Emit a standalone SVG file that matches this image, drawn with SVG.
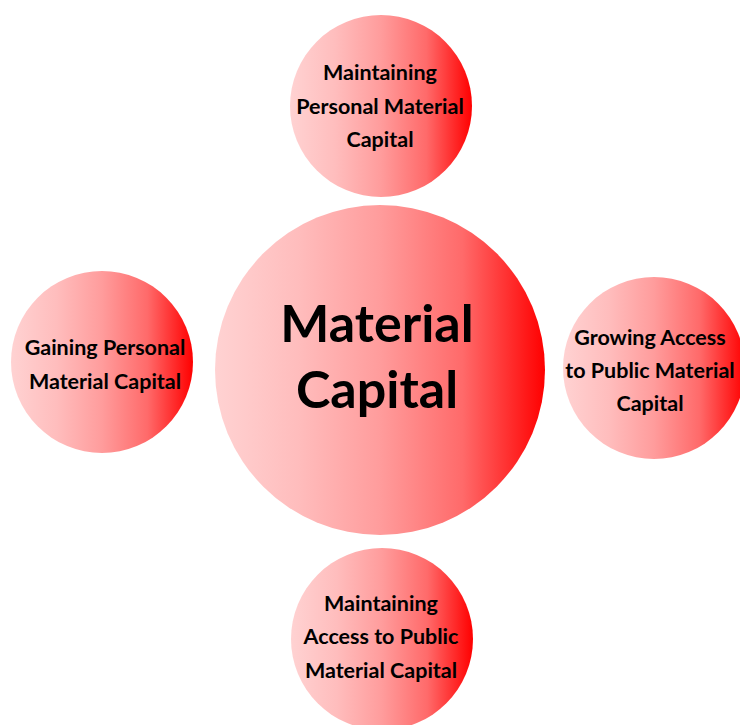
<svg xmlns="http://www.w3.org/2000/svg" width="740" height="725" viewBox="0 0 740 725">
  <defs>
    <!-- soft pink to red, left to right -->
    <linearGradient id="redFill" x1="0" y1="0" x2="1" y2="0">
      <stop offset="0" stop-color="#FFD2D2"/>
      <stop offset="0.25" stop-color="#FFBDBD"/>
      <stop offset="0.5" stop-color="#FF9C9C"/>
      <stop offset="0.75" stop-color="#FF6A6A"/>
      <stop offset="1" stop-color="#FF0000"/>
    </linearGradient>
  </defs>
  <style>
    .ball { fill: url(#redFill); }
    .lbl { font-family: Lato, "Open Sans", "Liberation Sans", sans-serif; font-weight: bold; font-size: 21.5px; fill: #000; text-anchor: middle; }
    .big { font-size: 52px; }
  </style>
  <rect width="740" height="725" fill="#FFFFFF"/>
  <g id="connectors"/>

  <g id="center">
    <circle class="ball" cx="380" cy="370" r="165"/>
    <text class="lbl big" x="377" y="342">Material</text>
    <text class="lbl big" x="377" y="408">Capital</text>
  </g>

  <g id="top">
    <circle class="ball" cx="381" cy="106" r="91"/>
    <text class="lbl" x="380" y="80">Maintaining</text>
    <text class="lbl" x="380" y="114">Personal Material</text>
    <text class="lbl" x="380" y="147">Capital</text>
  </g>

  <g id="left">
    <circle class="ball" cx="102" cy="362" r="91"/>
    <text class="lbl" x="105" y="355">Gaining Personal</text>
    <text class="lbl" x="105" y="389">Material Capital</text>
  </g>

  <g id="right">
    <circle class="ball" cx="654" cy="368" r="91"/>
    <text class="lbl" x="650" y="345">Growing Access</text>
    <text class="lbl" x="650" y="378">to Public Material</text>
    <text class="lbl" x="650" y="411">Capital</text>
  </g>

  <g id="bottom">
    <circle class="ball" cx="382" cy="639" r="91"/>
    <text class="lbl" x="381" y="611">Maintaining</text>
    <text class="lbl" x="381" y="644">Access to Public</text>
    <text class="lbl" x="381" y="678">Material Capital</text>
  </g>
</svg>
